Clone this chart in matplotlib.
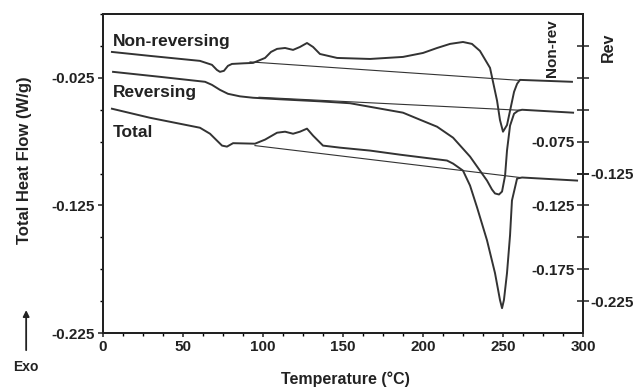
import matplotlib
matplotlib.use("Agg")
import matplotlib.pyplot as plt
from matplotlib.ticker import FixedLocator, FixedFormatter, MultipleLocator

plt.rcParams["font.family"] = ["Liberation Sans", "DejaVu Sans"]
plt.rcParams["font.weight"] = "bold"
plt.rcParams["axes.labelweight"] = "bold"

# ── Data ───────────────────────────────────────────────────────────────────────

# Non-reversing heat flow (Non-rev axis, W/g)
nonrev_T = [5.6, 29.4, 60.6, 68.1, 71.2, 73.1, 75.6, 78.1, 80.6, 88.1, 93.8, 101.3,
            105.0, 108.8, 113.8, 118.8, 123.1, 127.5, 131.3, 135.6, 146.3, 166.9,
            187.5, 200.0, 208.8, 216.9, 225.0, 230.6, 235.6, 241.9, 246.3, 248.1,
            250.0, 252.5, 254.4, 256.9, 258.8, 260.6, 293.1]
nonrev_hf = [-0.0047, -0.0078, -0.0117, -0.0148, -0.0188, -0.0203, -0.0195, -0.0156,
             -0.0141, -0.0136, -0.0133, -0.0094, -0.0047, -0.0023, -0.0016, -0.0031,
             -0.0008, 0.0023, -0.0008, -0.0063, -0.0094, -0.0102, -0.0086, -0.0055,
             -0.0016, 0.0016, 0.0031, 0.0016, -0.0039, -0.0172, -0.0430, -0.0580,
             -0.0672, -0.0620, -0.0508, -0.0360, -0.0297, -0.0266, -0.0281]
nonrev_base_T = [91.9, 260.6]
nonrev_base_hf = [-0.0125, -0.0270]

# Reversing heat flow (Rev axis, W/g)
rev_T = [6.3, 35.6, 63.8, 68.1, 73.1, 78.1, 85.6, 93.8, 110.6, 135.6, 154.4, 166.9,
         187.5, 198.1, 208.8, 218.8, 229.4, 235.6, 240.0, 243.1, 245.0, 247.5, 249.4,
         251.3, 252.5, 254.4, 256.9, 259.4, 261.9, 293.8]
rev_hf = [-0.0453, -0.0492, -0.0531, -0.0555, -0.0594, -0.0625, -0.0645, -0.0656,
          -0.0668, -0.0684, -0.0699, -0.0727, -0.0773, -0.0828, -0.0883, -0.0969,
          -0.1117, -0.1227, -0.1305, -0.1375, -0.1406, -0.1414, -0.1391, -0.1266,
          -0.1070, -0.0875, -0.0781, -0.0758, -0.0750, -0.0773]
rev_base_T = [97.5, 260.6]
rev_base_hf = [-0.0652, -0.0754]

# Total heat flow (left axis, W/g)
total_T = [5.6, 29.4, 60.6, 66.9, 70.6, 74.4, 77.5, 81.3, 95.0, 101.3, 108.8, 113.8,
           118.8, 123.1, 127.5, 131.3, 137.5, 148.1, 166.9, 185.6, 215.0, 218.8,
           225.0, 229.4, 233.8, 240.0, 245.0, 248.1, 249.4, 250.6, 252.5, 254.4,
           255.6, 258.8, 261.9, 296.3]
total_hf = [-0.0492, -0.0563, -0.0641, -0.0688, -0.0734, -0.0781, -0.0789, -0.0762,
            -0.0766, -0.0734, -0.0680, -0.0672, -0.0688, -0.0672, -0.0648, -0.0703,
            -0.0781, -0.0797, -0.0820, -0.0852, -0.0898, -0.0922, -0.0977, -0.1094,
            -0.1266, -0.1523, -0.1780, -0.1990, -0.2055, -0.1990, -0.1780, -0.1484,
            -0.1211, -0.1039, -0.1031, -0.1055]
total_base_T = [95.0, 260.6]
total_base_hf = [-0.0781, -0.1031]

# Tick values
x_ticks = [0, 50, 100, 150, 200, 250, 300]
total_ticks = [-0.025, -0.125, -0.225]
nonrev_ticks = [0.0, -0.025, -0.05, -0.075, -0.1, -0.125, -0.15, -0.175]
nonrev_labels = ["", "", "", "-0.075", "", "-0.125", "", "-0.175"]
rev_ticks = [-0.125, -0.225]

LINE = "#333333"
INK = "#222222"
TICK_FS = 11

# ── Figure ─────────────────────────────────────────────────────────────────────

fig = plt.figure(figsize=(6.38, 3.9), dpi=100)
ax = fig.add_axes([0.1614, 0.146, 0.7524, 0.818])
ax_nr = ax.twinx()
ax_rev = ax.twinx()

ax.plot(total_T, total_hf, color=LINE, lw=1.4)
ax.plot(total_base_T, total_base_hf, color=LINE, lw=0.8)
ax_nr.plot(nonrev_T, nonrev_hf, color=LINE, lw=1.4)
ax_nr.plot(nonrev_base_T, nonrev_base_hf, color=LINE, lw=0.8)
ax_rev.plot(rev_T, rev_hf, color=LINE, lw=1.4)
ax_rev.plot(rev_base_T, rev_base_hf, color=LINE, lw=0.8)

ax.set_xlim(0, 300)
ax.set_ylim(-0.225, 0.025)
ax_nr.set_ylim(-0.225, 0.025)
ax_rev.set_ylim(-0.25, 0.0)

for a in (ax, ax_nr, ax_rev):
    for s in a.spines.values():
        s.set_color(INK)
        s.set_linewidth(1.3)

# left axis
ax.yaxis.set_major_locator(FixedLocator(total_ticks))
ax.yaxis.set_major_formatter(FixedFormatter([f"{v:.3f}" for v in total_ticks]))
ax.yaxis.set_minor_locator(MultipleLocator(0.025))
ax.tick_params(axis="y", which="major", direction="out", length=3.6, width=1.1,
               pad=2.0, labelsize=TICK_FS, colors=INK, right=False)
ax.tick_params(axis="y", which="minor", direction="out", length=2.2, width=1.0,
               right=False)

# x axis
ax.xaxis.set_major_locator(FixedLocator(x_ticks))
ax.xaxis.set_minor_locator(MultipleLocator(12.5))
ax.tick_params(axis="x", which="major", direction="out", length=3, width=1.1,
               pad=2, labelsize=TICK_FS, colors=INK, top=False)
ax.tick_params(axis="x", which="minor", direction="out", length=2, width=1.0,
               top=False)

# Non-rev axis: labels inside the frame
ax_nr.yaxis.set_major_locator(FixedLocator(nonrev_ticks))
ax_nr.yaxis.set_major_formatter(FixedFormatter(nonrev_labels))
ax_nr.tick_params(axis="y", direction="inout", length=8.5, width=1.1, pad=-10,
                  labelsize=TICK_FS, colors=INK)
for lab in ax_nr.get_yticklabels():
    lab.set_horizontalalignment("right")
ax_nr.set_ylabel("Non-rev", fontsize=11, rotation=90,
                 va="center", ha="center", color=INK)
ax_nr.yaxis.set_label_coords(0.935, 0.893)

# Rev axis: labels outside
ax_rev.yaxis.set_major_locator(FixedLocator(rev_ticks))
ax_rev.yaxis.set_major_formatter(FixedFormatter([f"{v:.3f}" for v in rev_ticks]))
ax_rev.tick_params(axis="y", direction="inout", length=8.5, width=1.1, pad=1,
                   labelsize=TICK_FS, colors=INK)
ax_rev.set_ylabel("Rev", fontsize=11.5, rotation=90, va="center", ha="center",
                  color=INK)
ax_rev.yaxis.set_label_coords(1.052, 0.897)

ax.set_xlabel("Temperature (°C)", fontsize=11.5, color=INK)
ax.xaxis.set_label_coords(0.506, -0.12)
ax.set_ylabel("Total Heat Flow (W/g)", fontsize=12, color=INK)
ax.yaxis.set_label_coords(-0.148, 0.542)

# curve names
ax.text(6.3, 0.0, "Non-reversing", fontsize=12.5, va="baseline", color=INK)
ax.text(6.3, -0.0398, "Reversing", fontsize=12.5, va="baseline", color=INK)
ax.text(6.3, -0.0711, "Total", fontsize=12.5, va="baseline", color=INK)

# exo arrow
fig.text(0.040, 0.059, "Exo", fontsize=10, ha="center", va="center", color=INK)
ax.annotate("", xy=(0.041, 0.212), xytext=(0.041, 0.095),
            xycoords="figure fraction", textcoords="figure fraction",
            arrowprops=dict(arrowstyle="-|>", color=INK, lw=1.3,
                            mutation_scale=9))

fig.savefig("out.png", dpi=100)
